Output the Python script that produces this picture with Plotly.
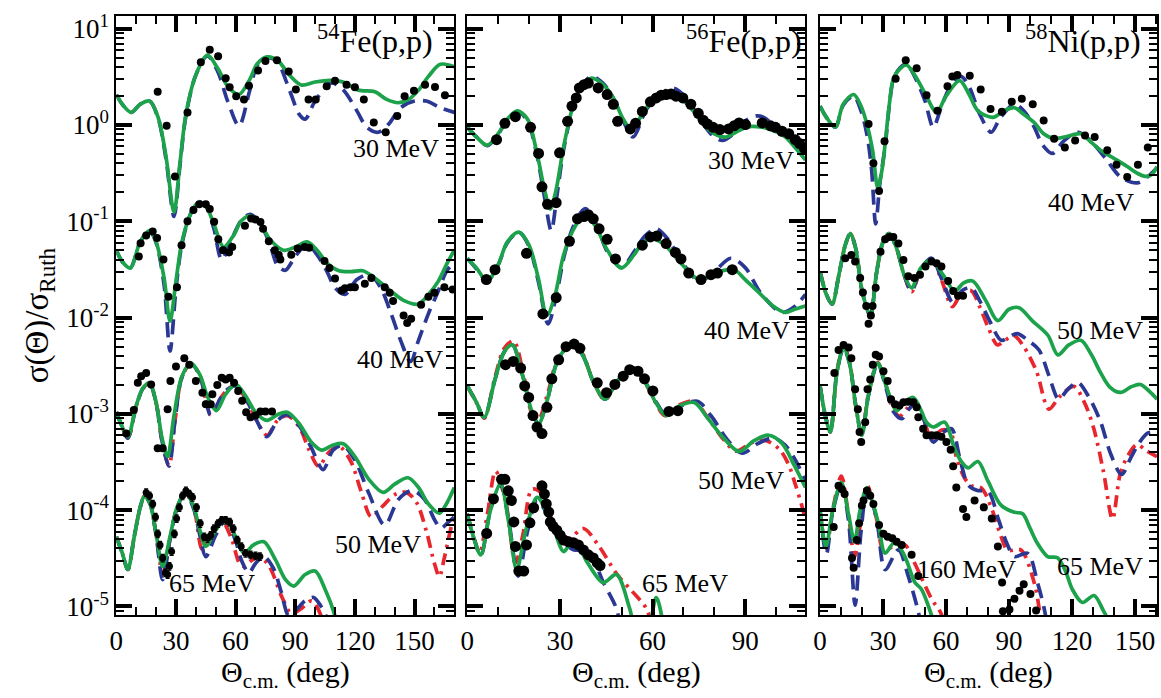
import plotly.graph_objects as go

W, H = 1161, 698

# ---------------- 54Fe(p,p) ----------------
fe54_30_g_ang = [0,3,7.5,12,16.7,21,25,29,32,35,40,45.8,51,56,61.7,67,71,75.8,81,87,93,100,107.5,114,121.7,130,136,141.7,147,152,157,163,170]
fe54_30_g = [2.07,1.64,1.35,1.64,1.77,1.20,0.468,0.124,0.40,1.29,3.31,5.3,3.87,2.52,2.07,2.94,4.35,5.09,4.71,3.31,2.6,2.79,2.9,2.79,2.3,2.21,1.84,1.70,1.84,2.3,3.19,4.26,4.03]
fe54_30_b_ang = [0,3,7.5,12,16.7,21,25,29,32,35,40,45.8,51,56,61.7,67,71,75.8,81,87,92,95,100,108,114,121,126,131.7,137,143,150,156,163,170]
fe54_30_b = [2.07,1.64,1.35,1.64,1.77,1.18,0.44,0.112,0.38,1.25,3.3,5.2,3.6,1.77,0.98,2.24,4.2,5.0,4.5,2.33,1.29,1.15,1.77,2.72,2.33,1.40,0.946,0.84,1.02,1.51,1.77,1.77,1.51,1.35]
fe54_30_d_ang = [20.8,25.3,29.5,35.8,42.5,47,51.2,55,57,60.3,64.2,66.7,71.3,75,80.8,86.7,90.3,96.7,100.3,105.8,110,115.8,120,124.5,129.5,135.5,141.3,145,149.7,155.3,160.3,165.3]
fe54_30_d = [2.21,0.98,0.292,1.35,4.47,6.05,5.18,3.06,2.46,1.99,1.84,2.56,3.67,4.60,4.71,3.58,2.33,1.84,1.84,2.52,2.88,2.62,2.46,1.84,1.06,0.84,1.24,1.99,2.27,2.62,2.48,2.04]

fe54_40_g_ang = [0,3,7,12,16.7,20,24,27,30,33,37,41,45,49,54,59,63,67.5,72,77,84,90,96,101,106,112,118,124,130,138,145,152,157,162,166,170]
fe54_40_g = [0.050,0.038,0.0327,0.061,0.080,0.061,0.0258,0.0092,0.0239,0.061,0.114,0.156,0.144,0.094,0.054,0.0714,0.1017,0.114,0.098,0.066,0.050,0.054,0.061,0.050,0.0367,0.0306,0.030,0.0306,0.0258,0.0189,0.0149,0.0138,0.0174,0.0239,0.0353,0.050]
fe54_40_b_ang = [0,3,7,12,16.7,20,24,27,30,33,37,41,45,49,53,58,63,67.5,72,77,81,85,90,96,101,106,110,115,121,127.5,133,138,143,148,152,157,162,166,170]
fe54_40_b = [0.050,0.038,0.0327,0.061,0.080,0.060,0.022,0.0045,0.020,0.058,0.115,0.16,0.143,0.085,0.040,0.065,0.103,0.118,0.097,0.060,0.035,0.031,0.043,0.058,0.0447,0.030,0.0204,0.0174,0.0248,0.028,0.0204,0.0113,0.0058,0.0035,0.0058,0.011,0.019,0.030,0.038]
fe54_40_d_ang = [11.3,12.2,15,18.3,20.5,23.7,26.2,30.5,32.8,35.8,38.8,41.7,45,47,49.2,51.3,53.7,56.7,58.3,64.7,67.8,70,72.5,73.8,76.7,79.7,81.7,82.5,88,91.2,94.7,97,104.7,107.2,110,113.3,115,117.8,120,125,128.3,135,137.5,139.2,144.5,146.3,148.3,153.3,157,160,165,169.2]
fe54_40_d = [0.043,0.059,0.071,0.0785,0.067,0.040,0.0164,0.0207,0.0565,0.100,0.131,0.150,0.150,0.134,0.099,0.065,0.050,0.0475,0.054,0.090,0.107,0.104,0.098,0.0835,0.062,0.050,0.0447,0.040,0.045,0.052,0.054,0.053,0.0387,0.0327,0.0254,0.0191,0.0201,0.0207,0.0207,0.0224,0.0258,0.0207,0.0181,0.0149,0.0105,0.0088,0.0097,0.0136,0.0164,0.0181,0.0207,0.0196]

fe54_50_g_ang = [0,3,5.8,10,13.5,16.7,20,23,25.8,29,33,37.5,42,46,50.3,55,60,65,70,75.8,81,86,92,98,103.3,109,114.2,120,127,134.2,140,146.7,152,157,162.5,166,170]
fe54_50_g = [1.05e-3,7.3e-4,5.8e-4,1.22e-3,1.87e-3,2.1e-3,1.32e-3,5.6e-4,3.6e-4,9.6e-4,2.46e-3,3.37e-3,2.56e-3,1.48e-3,1.08e-3,1.6e-3,2.02e-3,1.54e-3,1.04e-3,8.55e-4,9.8e-4,1.04e-3,7.9e-4,5.1e-4,4.2e-4,4.75e-4,4.9e-4,3.6e-4,2.09e-4,1.53e-4,1.86e-4,2.17e-4,1.72e-4,1.16e-4,9.3e-5,1.16e-4,1.72e-4]
fe54_50_b_ang = [0,3,5.8,10,13.5,16.7,20,23,26.5,29.5,33,37.5,42,45,47.5,52,56,60,65,70,75.8,81,86,92,98,104,109,114,120,127,135,142,149,155,160,163.3,167,170]
fe54_50_b = [1.05e-3,7.3e-4,5.6e-4,1.2e-3,1.85e-3,2.05e-3,1.3e-3,5.2e-4,2.86e-4,8.5e-4,2.4e-3,3.3e-3,2.5e-3,1.4e-3,9.6e-4,1.4e-3,1.8e-3,1.95e-3,1.45e-3,9e-4,5.8e-4,8.5e-4,9.8e-4,7.5e-4,4.5e-4,2.64e-4,4.2e-4,4.7e-4,3.3e-4,1.5e-4,7.0e-5,1.3e-4,1.6e-4,1.3e-4,8e-5,6.5e-5,7.5e-5,8.5e-5]
fe54_50_r_ang = [0,3,5.8,10,13.5,16.7,20,23,26.5,29.5,33,37.5,42,45,47.5,52,56,60,65,70,75.8,81,86,92,97,101.7,107,112,118,123,128.3,134,140,145.8,151,156,160,162.5,165,169,170]
fe54_50_r = [1.05e-3,7.3e-4,5.6e-4,1.2e-3,1.85e-3,2.05e-3,1.3e-3,5.2e-4,2.9e-4,8.5e-4,2.4e-3,3.3e-3,2.5e-3,1.4e-3,9.8e-4,1.4e-3,1.8e-3,1.95e-3,1.45e-3,9e-4,6.0e-4,8.5e-4,9.6e-4,7.3e-4,4.2e-4,2.86e-4,4e-4,4.6e-4,3.2e-4,1.6e-4,8.5e-5,1.1e-4,1.45e-4,1.53e-4,1.2e-4,6e-5,2.8e-5,2.05e-5,3.2e-5,7.3e-5,8e-5]
fe54_50_d_ang = [5,8.8,10.8,12.5,15,17.5,20.8,23.3,25.8,27.2,30,34.2,36.7,40,43.3,45,47.5,48.3,50.8,53,55,57,59.2,61.3,63.3,65.3,67.5,70,72.5,75,78.3]
fe54_50_d = [6.25e-4,1.1e-3,2.1e-3,2.46e-3,2.66e-3,2.02e-3,4.4e-4,4.4e-4,1.12e-3,2.19e-3,3.1e-3,3.78e-3,3.24e-3,2.19e-3,1.66e-3,1.26e-3,1.26e-3,1.6e-3,2.0e-3,2.37e-3,2.28e-3,2.37e-3,2.1e-3,1.73e-3,1.37e-3,1.04e-3,9.25e-4,9.6e-4,1.06e-3,1.06e-3,1.06e-3]

fe54_65_g_ang = [0,3,5.8,9,12,14.2,17,20,23.3,27,30.5,34.7,39,42,45,50,55,60,64.2,69,74.2,80,85,89.2,95,100,105,110,113]
fe54_65_g = [5.3e-5,3.58e-5,2.42e-5,5.3e-5,1.07e-4,1.41e-4,1.16e-4,5.7e-5,2.6e-5,5.3e-5,1.07e-4,1.53e-4,1.07e-4,6.2e-5,4.2e-5,6.2e-5,8.1e-5,5.3e-5,3.56e-5,4.36e-5,4.7e-5,3.06e-5,1.91e-5,1.63e-5,2.15e-5,2.33e-5,1.51e-5,8e-6,4e-6]
fe54_65_b_ang = [0,3,5.8,9,12,14.2,17,20,23.3,27,30.5,34.7,39,42,45,50,55,60,63,66.7,70,74.2,79,83,86.7,90,95,99.2,103,106,109]
fe54_65_b = [5.3e-5,3.58e-5,2.42e-5,5.3e-5,1.07e-4,1.41e-4,1.16e-4,5.5e-5,1.9e-5,5e-5,1.05e-4,1.5e-4,1.02e-4,5.5e-5,3.3e-5,5.5e-5,7.9e-5,4.8e-5,3e-5,2.24e-5,2.8e-5,3.3e-5,2.5e-5,1.4e-5,8e-6,9e-6,1.15e-5,1.24e-5,1.0e-5,7.5e-6,4e-6]
fe54_65_r_ang = [0,3,5.8,9,12,14.2,17,20,23.3,27,30.5,34.7,39,43.3,48,53,58,62,64.5,68,72,77,83.3,88,93,98.3,103,106]
fe54_65_r = [5.3e-5,3.58e-5,2.42e-5,5.3e-5,1.07e-4,1.41e-4,1.16e-4,5.6e-5,2.2e-5,5e-5,1.05e-4,1.5e-4,1.05e-4,3.9e-5,5.5e-5,7.8e-5,5e-5,2.8e-5,2.6e-5,3e-5,3.3e-5,2.6e-5,1.25e-5,8.5e-6,9.5e-6,1.14e-5,8e-6,4e-6]
fe54_65_d_ang = [15,16.7,18.3,19.7,20.8,22,23.3,24.7,25.8,26.7,27.8,29.2,30.3,31.7,33.3,35,36.7,38.3,40.3,42.2,44.2,45.8,47.5,49.2,51.2,53,55,57,58.8,60.8,62.8,65,67.5,70,72.2]
fe54_65_d = [1.53e-4,1.41e-4,1.16e-4,8.5e-5,5.7e-5,4.36e-5,3.19e-5,2.24e-5,2.15e-5,2.62e-5,3.72e-5,5.7e-5,8.2e-5,1.07e-4,1.41e-4,1.59e-4,1.47e-4,1.36e-4,1.07e-4,7.3e-5,5.3e-5,5.1e-5,5.5e-5,6.45e-5,7.3e-5,7.85e-5,7.85e-5,7.55e-5,6.45e-5,4.9e-5,4.2e-5,3.58e-5,3.44e-5,3.36e-5,3.3e-5]

# ---------------- 56Fe(p,p) ----------------
fe56_30_g_ang = [0,3,6.5,10,13,16.2,19.5,22.6,25,26.9,28.8,31.2,34.4,37,40.3,44,47.3,50.5,53.2,58,61.5,65.5,70.8,74,77.3,80,83.7,88,91,95.5,99,103,106,109.5]
fe56_30_g = [0.95,0.75,0.615,0.81,1.15,1.40,1.15,0.506,0.214,0.134,0.214,0.59,1.64,2.52,3.06,2.62,1.91,1.15,0.91,1.51,1.91,2.15,1.70,1.29,0.946,0.81,0.748,0.875,0.96,0.946,0.875,0.748,0.59,0.433]
fe56_30_b_ang = [0,3,6.5,10,13,16.2,19.5,22.6,25,27.2,29,31.2,34.4,37,40.3,44,47.3,50.5,53.7,58,62,66.5,71,75,79,82.6,86,90,93.3,96,98.7,103,106,109.5]
fe56_30_b = [0.95,0.75,0.61,0.8,1.13,1.38,1.1,0.48,0.18,0.080,0.18,0.55,1.6,2.5,3.2,2.7,1.9,1.1,0.75,1.45,2.0,2.42,1.9,1.2,0.8,0.69,0.8,1.1,1.24,1.2,1.02,0.78,0.62,0.486]
fe56_30_d_ang = [9.5,12.2,15.6,20.5,23.1,24.2,26,28.8,29.9,32.5,33.9,35.3,36.3,37.8,39.2,42.4,45.3,47.3,48.7,52.8,54.5,56.7,59.3,61.2,62.8,64.4,66,67.6,69.8,72.4,74.8,76.4,77.8,79.6,81.8,84.6,86.4,88,90.1,95.5,98.2,99.8,101.9,104.1,106.2,107.6,109.2]
fe56_30_d = [0.703,1.04,1.22,0.946,0.506,0.228,0.150,0.156,0.514,1.09,1.57,1.91,2.42,2.62,2.72,2.42,2.07,1.64,1.09,0.91,1.04,1.38,1.74,1.91,2.04,2.07,2.10,1.99,1.91,1.64,1.32,1.12,1.02,0.946,0.895,0.91,0.98,1.05,1.01,1.05,0.98,0.946,0.86,0.81,0.703,0.64,0.569]

fe56_40_g_ang = [0,3,6.5,10,13,16.7,20,23,25.8,28.5,31.2,34.5,38.2,42,45.1,49.9,54,57,60.1,64,68.7,75.1,81.6,86.4,90,94.4,99,103,106,109.5]
fe56_40_g = [0.0413,0.0327,0.0239,0.0353,0.061,0.077,0.0565,0.0258,0.0105,0.0174,0.0447,0.0835,0.119,0.0835,0.052,0.0327,0.0447,0.061,0.066,0.0565,0.0382,0.0248,0.030,0.0314,0.0248,0.0182,0.0132,0.0113,0.0122,0.0132]
fe56_40_b_ang = [0,3,6.5,10,13,16.7,20,23,26.2,29,31.5,34.5,38.2,42,45.1,49.9,54,57.5,61.2,65,69,75.1,80,85.3,90,95,101.9,106,109.5]
fe56_40_b = [0.0413,0.032,0.024,0.035,0.06,0.077,0.055,0.024,0.0086,0.018,0.045,0.09,0.135,0.09,0.05,0.033,0.048,0.07,0.0835,0.065,0.04,0.024,0.03,0.0413,0.033,0.018,0.0113,0.013,0.0174]
fe56_40_d_ang = [6.2,9,19.2,24.5,28.8,33.1,35.7,37.8,39.2,40.8,42.7,45.3,48,56.7,59.3,61.4,64.4,67.4,69.2,71.7,75.7,78.9,81,85.8]
fe56_40_d = [0.0248,0.0314,0.0465,0.0109,0.0161,0.062,0.106,0.112,0.117,0.106,0.0835,0.065,0.0406,0.0565,0.0687,0.0703,0.0587,0.0475,0.0406,0.029,0.0248,0.0279,0.029,0.0314]

fe56_50_g_ang = [0,3,5.5,9,12,14.6,18,21,23.1,26,29,33.3,37,41,44.6,49,53.7,58,61,64.4,69,73.5,78,83,88,93,97.6,102,106,109.5]
fe56_50_g = [1.95e-3,1.32e-3,9.2e-4,2.28e-3,4.4e-3,5.2e-3,2.46e-3,1.04e-3,7.9e-4,1.42e-3,3.37e-3,5.2e-3,4.26e-3,2.1e-3,1.42e-3,2.28e-3,2.99e-3,2.02e-3,1.32e-3,9.6e-4,1.22e-3,1.31e-3,8.9e-4,5.6e-4,4.07e-4,5.3e-4,6.0e-4,4.9e-4,2.86e-4,1.72e-4]
fe56_50_b_ang = [0,3,5.5,9,12,14.6,18,21,23.1,26,29,33.3,37,41,44.6,49,53.7,58,61,64.4,69,74.5,79,84,89,94,99.2,103,106.5,109.5]
fe56_50_b = [1.95e-3,1.32e-3,9.2e-4,2.28e-3,4.4e-3,5.2e-3,2.46e-3,1.04e-3,7.9e-4,1.42e-3,3.37e-3,5.2e-3,4.26e-3,2.1e-3,1.42e-3,2.28e-3,3.0e-3,2.05e-3,1.35e-3,9.8e-4,1.2e-3,1.35e-3,9.5e-4,5.5e-4,3.9e-4,4.9e-4,5.6e-4,4.7e-4,3.2e-4,2.0e-4]
fe56_50_r_ang = [0,3,5.5,9,12,15,18,20.5,22.6,26,29,33.5,37,41,44.6,49,53.7,58,61,64,69,73.5,78,83,87,92,96.5,101,104,106.2,108.3,109.5]
fe56_50_r = [1.95e-3,1.3e-3,9e-4,2.4e-3,4.8e-3,5.7e-3,2.8e-3,1.1e-3,8e-4,1.6e-3,3.5e-3,5.5e-3,4.4e-3,2.1e-3,1.4e-3,2.3e-3,3.0e-3,2.0e-3,1.3e-3,9.6e-4,1.25e-3,1.35e-3,9e-4,5.4e-4,4.1e-4,5e-4,5.3e-4,4.3e-4,3e-4,1.86e-4,1.12e-4,8e-5]
fe56_50_d_ang = [12.4,14.9,17.3,18.6,19.9,21.3,22.6,24.2,25.8,27.4,29.6,32,34.6,36.5,42.1,45.1,47.8,50.5,52.6,55.3,57.4,60.1,65.3,68.2]
fe56_50_d = [3.24e-3,3.5e-3,2.99e-3,1.95e-3,1.48e-3,9.6e-4,7.3e-4,6.25e-4,1.17e-3,2.31e-3,3.64e-3,4.98e-3,5.3e-3,4.79e-3,2.1e-3,1.66e-3,2.02e-3,2.46e-3,2.88e-3,2.77e-3,2.31e-3,1.73e-3,1.06e-3,1.08e-3]

fe56_65_g_ang = [0,2,4.4,7.5,10.8,13.5,16,19,22.6,25.5,28,31.2,33.5,35.5,39,44,48.3,52.6,55,58,61.2,64]
fe56_65_g = [9.2e-5,5.3e-5,3.44e-5,9.9e-5,1.86e-4,7.3e-5,2.42e-5,6.2e-5,1.36e-4,9.9e-5,6.45e-5,3.72e-5,4.5e-5,4.4e-5,2.83e-5,1.77e-5,2.15e-5,9.5e-6,5e-6,5e-6,1.24e-5,5e-6]
fe56_65_b_ang = [0,2,4.4,7.5,10.8,13.5,16.5,19.5,22.6,26,29,34.4,38,41,44,48.3,50]
fe56_65_b = [9.2e-5,5.3e-5,3.4e-5,1e-4,1.85e-4,7.5e-5,2.07e-5,6e-5,1.26e-4,9e-5,6e-5,3.87e-5,3.9e-5,3e-5,1.8e-5,9.5e-6,5e-6]
fe56_65_r_ang = [0,2,4,6.5,9.2,12.5,15.6,18,21,24,28,32.8,37.6,42.5,48.3,53.7,58,60.5]
fe56_65_r = [9.2e-5,5.5e-5,3.6e-5,9e-5,2.54e-4,1.2e-4,2.83e-5,5.5e-5,1.65e-4,1.5e-4,7.3e-5,5.1e-5,6.45e-5,4.3e-5,2.2e-5,1.4e-5,9.5e-6,5e-6]
fe56_65_d_ang = [6.3,8.5,11.1,12.2,13.3,14.3,15.1,15.6,16.7,18.3,19.2,20.3,21.5,24.2,25,25.6,26.4,26.9,27.8,29,30.1,31.2,32.8,34.4,36,37.6,39.2,40.8,42.1,43]
fe56_65_d = [5.74e-5,1.31e-4,2.09e-4,2.09e-4,1.59e-4,1.26e-4,7.55e-5,4.2e-5,2.33e-5,2.33e-5,4.36e-5,7.4e-5,1.06e-4,1.79e-4,1.47e-4,1.16e-4,9.55e-5,7.55e-5,6.8e-5,6.2e-5,5.5e-5,4.9e-5,4.7e-5,4.6e-5,4.36e-5,3.87e-5,3.44e-5,3.19e-5,2.83e-5,2.66e-5]

# ---------------- 58Ni(p,p) ----------------
ni58_40_g_ang = [0,3,7.3,11,16,19.5,22.3,25,27.5,29.5,31,33,35,38,41.2,45,49.9,55.5,60,66.5,71,75.2,82.3,87.5,92.6,97,102,106.5,111.5,117,124.2,129,133.6,140,146.3,151,155,158,160.5]
ni58_40_g = [1.57,1.20,0.946,1.64,2.07,1.57,1.02,0.547,0.222,0.342,0.64,1.64,3.06,3.82,4.19,3.31,2.15,1.35,1.99,2.88,2.07,1.40,1.20,1.40,1.51,1.29,1.06,0.81,0.72,0.755,0.81,0.665,0.547,0.45,0.37,0.316,0.292,0.305,0.37]
ni58_40_b_ang = [0,3,7.3,11,16,19.5,22.3,24.5,26.5,28.5,31,33,35,38,41.2,45,49.9,53.9,58,62,67,71,76,81.5,86,92.6,97,102,106,110.7,116,123,129,136,143,151,156,160.5]
ni58_40_b = [1.57,1.2,0.95,1.6,2.0,1.4,0.8,0.35,0.094,0.25,0.6,1.6,3.0,3.9,4.3,3.2,1.8,0.95,1.6,2.5,3.19,2.5,1.3,0.84,1.2,1.64,1.4,0.95,0.62,0.506,0.68,0.84,0.68,0.45,0.29,0.25,0.29,0.36]
ni58_40_d_ang = [23.1,25.4,28.1,30.7,36,40.8,46,50.7,55.9,60.7,63,65.4,71.3,76.5,81.2,86.6,91.3,96.1,101.3,106.5,111.5,116.6,121.5,126.2,130.8,136.8,141.2,146.3,151.4,156.1]
ni58_40_d = [1.02,0.40,0.206,0.676,3.02,4.71,3.87,2.04,1.40,2.52,3.18,3.31,3.24,2.33,1.46,1.37,1.74,1.87,1.64,1.11,0.72,0.582,0.69,0.778,0.748,0.547,0.385,0.288,0.385,0.582]

ni58_50_g_ang = [0,3,5.7,9,12,14.4,17,20,23.9,27,30,32.9,36.5,40,43.6,48,53.1,58.5,64.1,68.5,72.8,79,84.7,90,94.8,101,108.5,113.3,118.5,124.2,129,133.6,138,143.1,148,152.6,157,160.5]
ni58_50_g = [0.030,0.0174,0.0138,0.0279,0.0565,0.0743,0.052,0.0189,0.0105,0.030,0.061,0.0743,0.052,0.0279,0.0204,0.0327,0.0397,0.0279,0.0189,0.023,0.0239,0.0149,0.0093,0.0122,0.01265,0.0093,0.00655,0.0041,0.0052,0.0058,0.0042,0.00268,0.0019,0.00167,0.0019,0.00202,0.0017,0.00142]
ni58_50_b_ang = [0,3,5.7,9,12,14.4,17,20,23.9,27,30,32.9,36.5,40,43.6,48,53.1,58,63.3,67.5,72,76,80.7,86.3,90,94,99,104.3,109,113.7,118,122.7,128,133.6,138.5,143.6,148,152,156,160.5]
ni58_50_b = [0.030,0.0174,0.0138,0.0279,0.0565,0.0743,0.052,0.0189,0.0105,0.030,0.061,0.0743,0.052,0.0279,0.0189,0.032,0.0413,0.025,0.0143,0.019,0.0204,0.015,0.0093,0.0058,0.0063,0.0068,0.0058,0.0046,0.0025,0.00142,0.0018,0.00212,0.0015,8.3e-4,3.8e-4,2.35e-4,3.5e-4,5e-4,6.3e-4,6.5e-4]
ni58_50_r_ang = [0,3,5.7,9,12,14.4,17,20,23.9,27,30,32.9,36.5,40,43.6,48,53.1,58,63,67.5,72,76,80,84.5,88,92.4,97,103,109,114,120.9,126,130.4,135,139.3,143,147,151,155,160.5]
ni58_50_r = [0.030,0.0174,0.0138,0.0279,0.0565,0.0743,0.052,0.0189,0.0105,0.030,0.061,0.0743,0.052,0.0279,0.0185,0.031,0.040,0.024,0.013,0.018,0.019,0.013,0.008,0.0052,0.0058,0.0065,0.005,0.0028,0.00112,0.0015,0.00193,0.0013,7.0e-4,2.5e-4,8.1e-5,2.4e-4,3.8e-4,4.8e-4,4.2e-4,3.6e-4]
ni58_50_d_ang = [12,14.9,16.7,19.1,20.4,22,23.1,24.2,25,26.5,28.8,31,33,34.9,37.3,39.7,42,44.9,47.6,50.2,53.1,55.5,57.8,61,63.4,65.7,68.1]
ni58_50_d = [0.0413,0.0447,0.0382,0.0258,0.0182,0.0132,0.0086,0.0105,0.0132,0.0204,0.0483,0.065,0.0687,0.0687,0.0587,0.0397,0.0269,0.0258,0.0279,0.034,0.0382,0.0367,0.034,0.0239,0.0189,0.0168,0.0168]

ni58_65_g_ang = [0,2.5,4.9,8,11.2,14,17,19.9,23,27.5,31,36.5,40,44.4,48,50.7,53.9,59.4,64,67.3,70.5,75.2,80,86.3,92.6,96.5,100,103.6,108.4,113.1,117,120.2,125,130.5,135,139.2]
ni58_65_g = [1.95e-3,9.6e-4,6.5e-4,2.66e-3,4.8e-3,3.37e-3,1.22e-3,6.0e-4,1.54e-3,3.37e-3,2.1e-3,1.08e-3,1.3e-3,1.48e-3,1.1e-3,8.2e-4,7.3e-4,8.2e-4,4.4e-4,3.2e-4,2.75e-4,3.2e-4,2.0e-4,1.12e-4,9.5e-5,9.2e-5,6.5e-5,4.5e-5,3.3e-5,3.2e-5,2.3e-5,1.5e-5,1.1e-5,1.3e-5,9e-6,6e-6]
ni58_65_b_ang = [0,2.5,4.9,8,11.2,14,17,19.9,23,27.5,31,35,38.9,42,46,50,53.9,58,62.6,66.5,70.5,75,80,85,89,92.6,98.9,103.6,106.8,109]
ni58_65_b = [1.95e-3,9.6e-4,6.5e-4,2.66e-3,4.8e-3,3.37e-3,1.22e-3,6.0e-4,1.54e-3,3.3e-3,2.0e-3,1.05e-3,8.9e-4,1.1e-3,1.3e-3,8e-4,5.1e-4,6.3e-4,7.0e-4,3.5e-4,1.84e-4,1.6e-4,1.57e-4,8e-5,4.5e-5,3.3e-5,3.56e-5,1.76e-5,9.4e-6,5e-6]
ni58_65_r_ang = [0,2.5,4.9,8,11.2,14,17,19.9,23,27.5,31,35,38,41.5,45,50,53,58,62,65,68.9,72,76.8,82,86,89.4,95.7,102,104.4,106]
ni58_65_r = [1.95e-3,9.6e-4,6.5e-4,2.7e-3,5.2e-3,3.5e-3,1.2e-3,6.2e-4,1.6e-3,3.4e-3,2.1e-3,1.1e-3,9.5e-4,1.15e-3,1.35e-3,8e-4,5.5e-4,6.8e-4,6.5e-4,3.5e-4,2.15e-4,1.8e-4,1.7e-4,1e-4,5.5e-5,3.85e-5,3.85e-5,1.76e-5,9.4e-6,5e-6]
ni58_65_d_ang = [6.8,8.8,11.2,13.6,14.9,16.7,18,18.8,19.6,21.5,22.6,23.9,25.1,26.5,28.1,30.2,32.2,33.8,35.7,37.8,39.7,42,44.4,46,46.8,49.1,50.7,53.1,55.5,57.8,60.2,62.2,63.4,64.9,68.1,69.7,73.6,78,81.8,84.7,86.7,87.1,90.2,92.6,95,97,100.2,102.9]
ni58_65_d = [2.66e-3,4.6e-3,5.2e-3,4.9e-3,3.78e-3,1.8e-3,1.12e-3,6.5e-4,5.1e-4,8.2e-4,1.8e-3,2.28e-3,3.24e-3,4.1e-3,3.94e-3,2.77e-3,2.19e-3,1.42e-3,1.26e-3,1.22e-3,1.32e-3,1.34e-3,1.32e-3,1.17e-3,9.25e-4,7.0e-4,6.0e-4,6.0e-4,6.0e-4,5.8e-4,5.1e-4,4.23e-4,2.86e-4,1.72e-4,1.03e-4,8.5e-5,1.26e-4,1.07e-4,8.2e-5,4.2e-5,1.77e-5,8.9e-6,9.3e-6,1.2e-5,1.46e-5,1.7e-5,1.35e-5,9.1e-6]

ni58_160_g_ang = [0,2.8,6,10.1,13.5,16.4,19,22.3,25,27.8,31,35.7,40.4,45.2,48.3,53.1,56]
ni58_160_g = [9.9e-5,4.2e-5,9.9e-5,1.93e-4,9.2e-5,4.7e-5,9.9e-5,1.72e-4,1.2e-4,7.3e-5,3.58e-5,4.7e-5,3.3e-5,1.77e-5,1.51e-5,8.1e-6,5e-6]
ni58_160_b_ang = [0,3,6,10.1,13.5,16.7,19.5,22.5,27,31,37.3,42,46.8,49]
ni58_160_b = [9.9e-5,3.5e-5,9.5e-5,1.85e-4,8e-5,1.03e-5,6e-5,1.65e-4,8e-5,2.42e-5,3.87e-5,2.07e-5,8.8e-6,5e-6]
ni58_160_r_ang = [0,3,6,10.1,13.5,16.4,19.5,22.3,27,30.2,35,40.4,45,53.1,57.8,60]
ni58_160_r = [9.9e-5,4e-5,1e-4,2.26e-4,9e-5,3.3e-5,8e-5,1.84e-4,8e-5,3.87e-5,4.2e-5,4.36e-5,2.83e-5,1.2e-5,8.3e-6,5e-6]
ni58_160_d_ang = [6.5,8.8,10.4,11.7,15.2,16,17.5,18.6,19.9,20.7,22.3,23.9,25.4,28.1,30.2,32.2,34.4,36.5,38.9,43.6,46.8]
ni58_160_d = [6.7e-5,1.79e-4,1.65e-4,1.47e-4,3.19e-5,2.52e-5,4.9e-5,7.3e-5,1.12e-4,1.26e-4,1.59e-4,1.41e-4,1.16e-4,7.0e-5,5.7e-5,5.3e-5,5.1e-5,4.7e-5,4.36e-5,3.44e-5,2.07e-5]

# axis settings
x_ranges = [[0, 170], [0, 109.4], [0, 160.5]]
x_tickvals = [[0, 30, 60, 90, 120, 150], [0, 30, 60, 90], [0, 30, 60, 90, 120, 150]]
y_tickvals = [1e-5, 1e-4, 1e-3, 1e-2, 1e-1, 1, 10]
y_ticktext = ["10<sup>-5</sup>", "10<sup>-4</sup>", "10<sup>-3</sup>", "10<sup>-2</sup>",
              "10<sup>-1</sup>", "10<sup>0</sup>", "10<sup>1</sup>"]
panel_labels = ["<sup>54</sup>Fe(p,p)", "<sup>56</sup>Fe(p,p)", "<sup>58</sup>Ni(p,p)"]
y_title = "σ(Θ)/σ<sub>Ruth</sub>"
x_title = "Θ<sub>c.m.</sub> (deg)"

GREEN = "#1ba24a"
BLUE = "#2a3894"
RED = "#e8262d"
FONT = "Liberation Serif, Times New Roman, serif"

fig = go.Figure()

def curve(ang, val, color, dash, k):
    fig.add_trace(go.Scatter(
        x=ang, y=val, mode="lines",
        line=dict(color=color, width=3.7, dash=dash, shape="spline", smoothing=0.9),
        xaxis="x" + ("" if k == 1 else str(k)), yaxis="y" + ("" if k == 1 else str(k)),
        showlegend=False, hoverinfo="skip"))

def dots(ang, val, k, size, err=False):
    fig.add_trace(go.Scatter(
        x=ang, y=val, mode="markers",
        marker=dict(color="black", size=size),
        error_y=dict(type="percent", value=9, color="black", thickness=1.2, width=2, visible=err),
        xaxis="x" + ("" if k == 1 else str(k)), yaxis="y" + ("" if k == 1 else str(k)),
        showlegend=False, hoverinfo="skip"))

DASH_B = "15px,8px"
DASH_R = "12px,6px,3px,6px"

# panel 1
curve(fe54_50_r_ang, fe54_50_r, RED, DASH_R, 1)
curve(fe54_65_r_ang, fe54_65_r, RED, DASH_R, 1)
curve(fe54_30_b_ang, fe54_30_b, BLUE, DASH_B, 1)
curve(fe54_40_b_ang, fe54_40_b, BLUE, DASH_B, 1)
curve(fe54_50_b_ang, fe54_50_b, BLUE, DASH_B, 1)
curve(fe54_65_b_ang, fe54_65_b, BLUE, DASH_B, 1)
curve(fe54_30_g_ang, fe54_30_g, GREEN, "solid", 1)
curve(fe54_40_g_ang, fe54_40_g, GREEN, "solid", 1)
curve(fe54_50_g_ang, fe54_50_g, GREEN, "solid", 1)
curve(fe54_65_g_ang, fe54_65_g, GREEN, "solid", 1)
dots(fe54_30_d_ang, fe54_30_d, 1, 8)
dots(fe54_40_d_ang, fe54_40_d, 1, 8)
dots(fe54_50_d_ang, fe54_50_d, 1, 8)
dots(fe54_65_d_ang, fe54_65_d, 1, 7, err=True)

# panel 2
curve(fe56_50_r_ang, fe56_50_r, RED, DASH_R, 2)
curve(fe56_65_r_ang, fe56_65_r, RED, DASH_R, 2)
curve(fe56_30_b_ang, fe56_30_b, BLUE, DASH_B, 2)
curve(fe56_40_b_ang, fe56_40_b, BLUE, DASH_B, 2)
curve(fe56_50_b_ang, fe56_50_b, BLUE, DASH_B, 2)
curve(fe56_65_b_ang, fe56_65_b, BLUE, DASH_B, 2)
curve(fe56_30_g_ang, fe56_30_g, GREEN, "solid", 2)
curve(fe56_40_g_ang, fe56_40_g, GREEN, "solid", 2)
curve(fe56_50_g_ang, fe56_50_g, GREEN, "solid", 2)
curve(fe56_65_g_ang, fe56_65_g, GREEN, "solid", 2)
dots(fe56_30_d_ang, fe56_30_d, 2, 11)
dots(fe56_40_d_ang, fe56_40_d, 2, 11)
dots(fe56_50_d_ang, fe56_50_d, 2, 11)
dots(fe56_65_d_ang, fe56_65_d, 2, 11)

# panel 3
curve(ni58_50_r_ang, ni58_50_r, RED, DASH_R, 3)
curve(ni58_65_r_ang, ni58_65_r, RED, DASH_R, 3)
curve(ni58_160_r_ang, ni58_160_r, RED, DASH_R, 3)
curve(ni58_40_b_ang, ni58_40_b, BLUE, DASH_B, 3)
curve(ni58_50_b_ang, ni58_50_b, BLUE, DASH_B, 3)
curve(ni58_65_b_ang, ni58_65_b, BLUE, DASH_B, 3)
curve(ni58_160_b_ang, ni58_160_b, BLUE, DASH_B, 3)
curve(ni58_40_g_ang, ni58_40_g, GREEN, "solid", 3)
curve(ni58_50_g_ang, ni58_50_g, GREEN, "solid", 3)
curve(ni58_65_g_ang, ni58_65_g, GREEN, "solid", 3)
curve(ni58_160_g_ang, ni58_160_g, GREEN, "solid", 3)
dots(ni58_40_d_ang, ni58_40_d, 3, 8)
dots(ni58_50_d_ang, ni58_50_d, 3, 8)
dots(ni58_65_d_ang, ni58_65_d, 3, 8)
dots(ni58_160_d_ang, ni58_160_d, 3, 8)

x_domains = [[110 / W, 450 / W], [463 / W, 803 / W], [818 / W, 1157 / W]]
y_domain = [1 - 620 / H, 1 - 10 / H]
y_minor = [k * 10.0 ** n for n in range(-6, 2) for k in range(2, 10)]

layout = dict(
    width=W, height=H, margin=dict(l=0, r=0, t=0, b=0),
    paper_bgcolor="white", plot_bgcolor="white",
    font=dict(family=FONT, color="black"),
)
for i in range(3):
    sfx = "" if i == 0 else str(i + 1)
    layout["xaxis" + sfx] = dict(
        domain=x_domains[i], range=x_ranges[i], anchor="y" + sfx,
        tickmode="array", tickvals=x_tickvals[i],
        ticks="inside", ticklen=16, tickwidth=4, tickcolor="black",
        showline=True, linewidth=2, linecolor="black", mirror="allticks",
        showgrid=False, zeroline=False,
        tickfont=dict(family=FONT, size=27, color="black"),
        minor=dict(ticks="inside", ticklen=8, tickwidth=2, tickcolor="black",
                   tickmode="linear", tick0=0, dtick=10, showgrid=False),
    )
    layout["yaxis" + sfx] = dict(
        domain=y_domain, type="log", range=[-5.092, 1.133], anchor="x" + sfx,
        tickmode="array", tickvals=y_tickvals, ticktext=y_ticktext,
        showticklabels=(i == 0),
        ticks="inside", ticklen=16, tickwidth=4, tickcolor="black",
        showline=True, linewidth=2, linecolor="black", mirror="allticks",
        showgrid=False, zeroline=False,
        tickfont=dict(family=FONT, size=27, color="black"),
        minor=dict(ticks="inside", ticklen=8, tickwidth=2, tickcolor="black",
                   tickmode="array", tickvals=y_minor, showgrid=False),
    )
layout["yaxis"]["title"] = dict(text=y_title, font=dict(family=FONT, size=33, color="black"),
                                standoff=8)

ann = []
def txt(s, x, y, size, xanchor="center", yanchor="middle"):
    ann.append(dict(text=s, x=x / W, y=1 - y / H, xref="paper", yref="paper",
                    xanchor=xanchor, yanchor=yanchor, showarrow=False,
                    font=dict(family=FONT, size=size, color="black")))

# panel titles
txt(panel_labels[0], 431, 34, 32, xanchor="right")
txt(panel_labels[1], 802, 34, 32, xanchor="right")
txt(panel_labels[2], 1143, 34, 32, xanchor="right")
# energy labels
txt("30 MeV", 391, 145, 26)
txt("40 MeV", 395, 360, 26)
txt("50 MeV", 373, 548, 26)
txt("65 MeV", 206, 588, 26)
txt("30 MeV", 749, 157, 26)
txt("40 MeV", 744, 330, 26)
txt("50 MeV", 738, 483, 26)
txt("65 MeV", 682, 588, 26)
txt("40 MeV", 1091, 200, 26)
txt("50 MeV", 1100, 330, 26)
txt("65 MeV", 1100, 570, 26)
txt("160 MeV", 965, 573, 26)
# x axis titles
for cx in [280, 633, 987]:
    txt(x_title, cx, 680, 30)

layout["annotations"] = ann
fig.update_layout(**layout)
fig.write_html("out.html")
